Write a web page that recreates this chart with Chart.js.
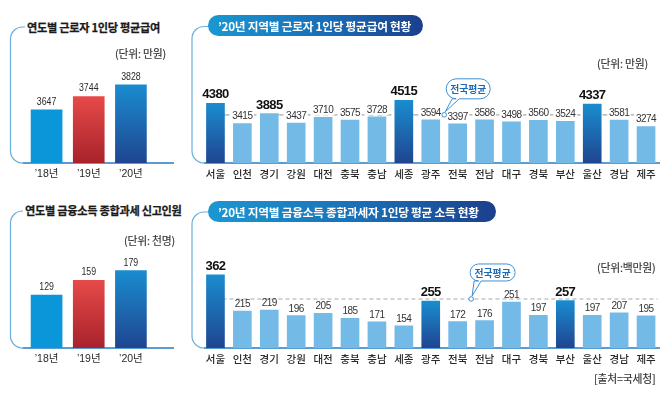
<!DOCTYPE html>
<html><head><meta charset="utf-8">
<script src="https://cdn.jsdelivr.net/npm/chart.js@4"></script>
<style>
body{margin:0;background:#fff;}
#wrap{position:relative;width:670px;height:399px;overflow:hidden;background:#fff;font-family:"Noto Sans CJK KR","Noto Sans",sans-serif;}
canvas{position:absolute;}
.t{position:absolute;white-space:nowrap;color:#222;}
.title{font-weight:700;font-size:11.2px;letter-spacing:-0.3px;height:16px;line-height:16px;background:#fff;padding:0 2px;color:#1a1a1a;-webkit-text-stroke:0.25px #1a1a1a;}
.unit{font-size:10.8px;color:#333;height:14px;line-height:14px;letter-spacing:-0.2px;-webkit-text-stroke:0.15px #333;}
.pill{height:21px;line-height:21px;border-radius:11px;color:#fff;font-weight:700;font-size:11.7px;letter-spacing:-0.25px;padding-left:10px;box-sizing:border-box;background:linear-gradient(to right,#1a98d2,#1a6db5 55%,#1c3f8c);}
</style></head><body>
<div id="wrap">
<canvas id="c1" width="185" height="195" style="left:0;top:0"></canvas>
<canvas id="c2" width="485" height="195" style="left:185px;top:0"></canvas>
<canvas id="c3" width="185" height="204" style="left:0;top:195px"></canvas>
<canvas id="c4" width="485" height="204" style="left:185px;top:195px"></canvas>
<div class="t title" style="left:25px;top:19px">연도별 근로자 1인당 평균급여</div>
<div class="t unit" style="left:115px;top:46px">(단위: 만원)</div>
<div class="t pill" style="left:208px;top:15px;width:215px">’20년 지역별 근로자 1인당 평균급여 현황</div>
<div class="t unit" style="left:597px;top:56px">(단위: 만원)</div>
<div class="t title" style="left:23px;top:202px">연도별 금융소득 종합과세 신고인원</div>
<div class="t unit" style="left:124px;top:233px">(단위: 천명)</div>
<div class="t pill" style="left:208px;top:201px;width:288px">’20년 지역별 금융소득 종합과세자 1인당 평균 소득 현황</div>
<div class="t unit" style="left:597px;top:260px">(단위:백만원)</div>
<div class="t unit" style="left:594px;top:371px">[출처=국세청]</div>
</div>
<script>
// ---- data ----
const yearLabels = ['’18년', '’19년', '’20년'];
const wageByYear = [3647, 3744, 3828];
const filersByYear = [129, 159, 179];
const regions = ['서울','인천','경기','강원','대전','충북','충남','세종','광주','전북','전남','대구','경북','부산','울산','경남','제주'];
const wageByRegion = [4380, 3415, 3885, 3437, 3710, 3575, 3728, 4515, 3594, 3397, 3586, 3498, 3560, 3524, 4337, 3581, 3274];
const incomeByRegion = [362, 215, 219, 196, 205, 185, 171, 154, 255, 172, 176, 251, 197, 257, 197, 207, 195];
const wageNational = 3828;
const incomeNational = 264; // estimated from the dashed line
const avgLabel = '전국평균';
const wageDarkBars = ['서울','세종','울산'];
const wageBigLabels = ['서울','경기','세종','울산'];
const incomeDarkBars = ['서울','광주','부산'];
const incomeBigLabels = ['서울','광주','부산'];

// ---- helpers ----
function vGrad(c1, c2) {
  return (c) => {
    const chart = c.chart, ca = chart.chartArea;
    if (!ca) return c1;
    const y = chart.scales.y.getPixelForValue(c.raw);
    const g = chart.ctx.createLinearGradient(0, y, 0, ca.bottom);
    g.addColorStop(0, c1); g.addColorStop(1, c2);
    return g;
  };
}
const darkBlue = vGrad('#1a8ccf', '#1f4590');
const redBar = vGrad('#e64a48', '#a8222b');
const lightBlue = '#74bae7';

const framePlugin = {
  id: 'frame',
  beforeDatasetsDraw(chart, args, o) {
    const ctx = chart.ctx, b = chart.chartArea.bottom, r = o.r;
    ctx.save();
    ctx.strokeStyle = '#6aaedc'; ctx.lineWidth = 1.2;
    ctx.beginPath();
    ctx.moveTo(o.startX, o.topY);
    ctx.lineTo(o.x0 + r, o.topY);
    ctx.arcTo(o.x0, o.topY, o.x0, o.topY + r, r);
    ctx.lineTo(o.x0, b - r);
    ctx.arcTo(o.x0, b, o.x0 + r, b, r);
    ctx.stroke();
    ctx.strokeStyle = '#5b9dd2'; ctx.lineWidth = 1.8;
    ctx.beginPath(); ctx.moveTo(o.x0 + r, b); ctx.lineTo(o.endX, b); ctx.stroke();
    ctx.restore();
  }
};

const avgLinePlugin = {
  id: 'avgLine',
  beforeDatasetsDraw(chart, args, o) {
    if (o.value == null) return;
    const ctx = chart.ctx, y = chart.scales.y.getPixelForValue(o.value);
    const x1 = chart.getDatasetMeta(0).data[0].x;
    ctx.save();
    ctx.strokeStyle = '#a9a9a9'; ctx.lineWidth = 1.2; ctx.setLineDash(o.dash);
    ctx.beginPath(); ctx.moveTo(x1, y); ctx.lineTo(chart.chartArea.right - 2, y); ctx.stroke();
    ctx.restore();
  }
};

const labelPlugin = {
  id: 'valueLabels',
  afterDatasetsDraw(chart, args, o) {
    const ctx = chart.ctx, meta = chart.getDatasetMeta(0), data = chart.data.datasets[0].data;
    meta.data.forEach((bar, i) => {
      const big = o.big ? o.big.includes(chart.data.labels[i]) : false;
      const txt = String(data[i]);
      ctx.save();
      ctx.font = big ? o.bigFont : o.font;
      ctx.letterSpacing = big ? o.bigLs : o.ls;
      ctx.textAlign = 'center'; ctx.textBaseline = 'alphabetic';
      const y = bar.y - (big ? o.bigGap : o.gap);
      const sx = o.scaleX || 1;
      if (o.whiteBg && !big) {
        const w = ctx.measureText(txt).width * sx;
        ctx.fillStyle = '#fff';
        ctx.fillRect(bar.x - w / 2 - 1.5, y - 8.5, w + 3, 10.5);
      }
      ctx.fillStyle = big ? '#111' : o.color;
      ctx.translate(bar.x, y);
      ctx.scale(sx, 1);
      ctx.fillText(txt, 0, 0);
      ctx.restore();
    });
  }
};

const calloutPlugin = {
  id: 'callout',
  afterDatasetsDraw(chart, args, o) {
    if (o.value == null) return;
    const ctx = chart.ctx, xs = chart.scales.x, ys = chart.scales.y;
    const cx = (xs.getPixelForValue(o.between) + xs.getPixelForValue(o.between + 1)) / 2;
    const cy = ys.getPixelForValue(o.value);
    const bw = o.w, bh = o.h, bx = cx + o.dx, by = cy - o.gap - bh, r = bh / 2;
    ctx.save();
    ctx.lineWidth = 1; ctx.strokeStyle = '#3f90d2'; ctx.fillStyle = '#fff';
    ctx.beginPath();
    ctx.moveTo(bx + r, by);
    ctx.lineTo(bx + bw - r, by);
    ctx.arcTo(bx + bw, by, bx + bw, by + r, r);
    ctx.arcTo(bx + bw, by + bh, bx + bw - r, by + bh, r);
    ctx.lineTo(bx + o.t2, by + bh);
    ctx.lineTo(cx + 1, cy - 3);
    ctx.lineTo(bx + o.t1, by + bh);
    ctx.lineTo(bx + r, by + bh);
    ctx.arcTo(bx, by + bh, bx, by + r, r);
    ctx.arcTo(bx, by, bx + r, by, r);
    ctx.closePath();
    ctx.fill(); ctx.stroke();
    ctx.beginPath(); ctx.arc(cx, cy, 2.3, 0, Math.PI * 2); ctx.fill(); ctx.stroke();
    ctx.fillStyle = '#1d6ab3';
    ctx.font = '700 9.8px "Noto Sans CJK KR"';
    ctx.textAlign = 'center'; ctx.textBaseline = 'middle';
    ctx.fillText(o.text, bx + bw / 2, by + bh / 2 + 0.5);
    ctx.restore();
  }
};

function makeChart(id, cfg) {
  const el = document.getElementById(id);
  const H = el.height;
  const tickSize = cfg.tickSize, tickPad = 5;
  const axisH = tickSize * 1.2 + tickPad * 2;
  return new Chart(el, {
    type: 'bar',
    data: {
      labels: cfg.labels,
      datasets: [{ data: cfg.values, backgroundColor: cfg.colors, barThickness: cfg.barW, borderWidth: 0 }]
    },
    options: {
      responsive: false, animation: false, devicePixelRatio: 1,
      layout: { padding: { left: cfg.left, right: cfg.right, top: cfg.top, bottom: H - cfg.bottom - axisH } },
      plugins: {
        legend: { display: false }, tooltip: { enabled: false },
        frame: cfg.frame,
        avgLine: cfg.avg || {},
        valueLabels: cfg.lbl,
        callout: cfg.callout || {}
      },
      scales: {
        y: { display: false, min: cfg.min, max: cfg.max },
        x: {
          grid: { display: false, drawTicks: false },
          border: { display: false },
          ticks: { padding: tickPad, color: '#2a2a2a', font: { family: cfg.tickFamily, size: tickSize, weight: cfg.tickWeight } }
        }
      }
    },
    plugins: [framePlugin, avgLinePlugin, labelPlugin, calloutPlugin]
  });
}

// top-left: yearly average wage
makeChart('c1', {
  labels: yearLabels, values: wageByYear,
  colors: (c) => [ '#0a96d9', redBar(c), darkBlue(c) ][c.dataIndex],
  barW: 31, left: 25.5, right: 33, top: 40, bottom: 163, min: 3260, max: 4155,
  tickSize: 10.5, tickFamily: '"Liberation Sans","Noto Sans CJK KR"', tickWeight: 'normal',
  frame: { x0: 10.5, topY: 27, startX: 25, endX: 174, r: 12 },
  lbl: { font: '11px "Liberation Sans"', ls: '0px', scaleX: 0.8, gap: 5, color: '#2a2a2a' }
});

// top-right: regional wage
makeChart('c2', {
  labels: regions, values: wageByRegion,
  colors: (c) => wageDarkBars.includes(regions[c.dataIndex]) ? darkBlue(c) : lightBlue,
  barW: 18, left: 17, right: 10.5, top: 40, bottom: 163, min: 1534, max: 7391,
  tickSize: 10.5, tickFamily: '"Noto Sans CJK KR"', tickWeight: '500',
  frame: { x0: 7, topY: 26.5, startX: 24, endX: 475, r: 12 },
  avg: { value: wageNational, dash: [5, 4] },
  lbl: { font: '10px "Liberation Sans"', ls: '-0.5px', gap: 4, color: '#333', whiteBg: true,
         big: wageBigLabels, bigFont: 'bold 13px "Liberation Sans"', bigLs: '-0.6px', bigGap: 5 },
  callout: { value: wageNational, between: 8, text: avgLabel, dx: 2, w: 44, h: 20, gap: 16, t1: 6, t2: 13 }
});

// bottom-left: yearly filers
makeChart('c3', {
  labels: yearLabels, values: filersByYear,
  colors: (c) => [ '#0a96d9', redBar(c), darkBlue(c) ][c.dataIndex],
  barW: 31, left: 25.5, right: 33, top: 40, bottom: 153, min: 20.8, max: 251.6,
  tickSize: 10.5, tickFamily: '"Liberation Sans","Noto Sans CJK KR"', tickWeight: 'normal',
  frame: { x0: 10.5, topY: 16, startX: 23, endX: 174, r: 12 },
  lbl: { font: '11px "Liberation Sans"', ls: '0px', scaleX: 0.8, gap: 5, color: '#2a2a2a' }
});

// bottom-right: regional financial income
makeChart('c4', {
  labels: regions, values: incomeByRegion,
  colors: (c) => incomeDarkBars.includes(regions[c.dataIndex]) ? darkBlue(c) : lightBlue,
  barW: 18, left: 17, right: 10.5, top: 40, bottom: 153, min: 64, max: 525,
  tickSize: 10.5, tickFamily: '"Noto Sans CJK KR"', tickWeight: '500',
  frame: { x0: 7, topY: 17, startX: 24, endX: 475, r: 12 },
  avg: { value: incomeNational, dash: [4, 3] },
  lbl: { font: '10px "Liberation Sans"', ls: '-0.5px', gap: 4, color: '#333',
         big: incomeBigLabels, bigFont: 'bold 13px "Liberation Sans"', bigLs: '-0.6px', bigGap: 5 },
  callout: { value: incomeNational, between: 9, text: avgLabel, dx: -1, w: 45, h: 17, gap: 18, t1: 4, t2: 11 }
});
</script>
</body></html>
